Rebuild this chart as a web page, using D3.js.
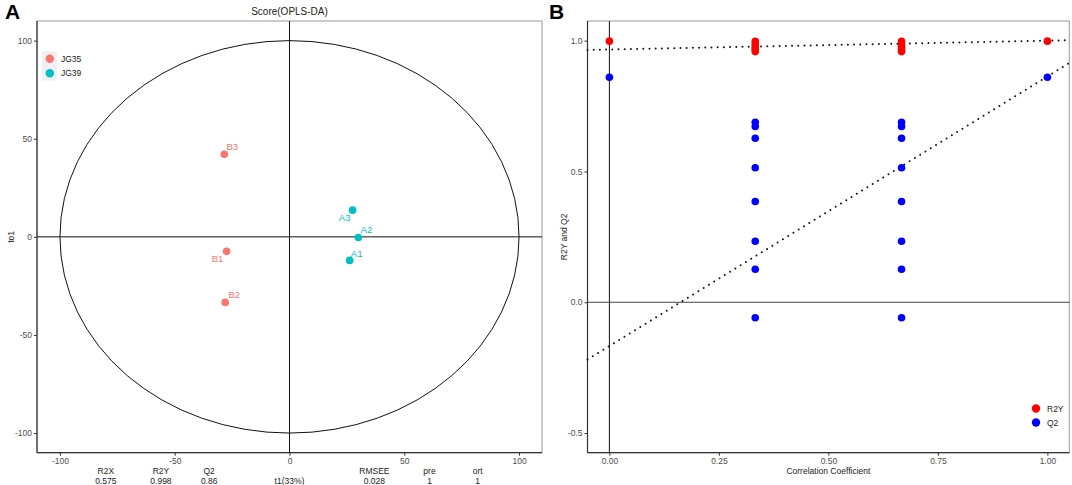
<!DOCTYPE html>
<html>
<head>
<meta charset="utf-8">
<script src="https://cdn.jsdelivr.net/npm/d3@7"></script>
<style>
  body { margin: 0; background: #fff; }
  text { font-family: "Liberation Sans", Arial, sans-serif; }
</style>
</head>
<body>
<svg id="chart" width="1072" height="485"></svg>
<script>
// ---- panel A data (OPLS-DA scores) ----
const sampleNames = ["B1", "B2", "B3", "A1", "A2", "A3"];
const sampleGroup = ["JG35", "JG35", "JG35", "JG39", "JG39", "JG39"];
const t1Scores = [-27.4, -28.0, -28.4, 26.2, 30.0, 27.5];
const to1Scores = [-7.4, -33.4, 42.1, -12.0, -0.3, 13.6];
const groups = ["JG35", "JG39"];
const ticksA = [-100, -50, 0, 50, 100];
const statNames = ["R2X", "R2Y", "Q2", "RMSEE", "pre", "ort"];
const statValues = ["0.575", "0.998", "0.86", "0.028", "1", "1"];
const statAt = [-80, -56, -35, 37, 61, 82]; // t1 position of each stat column

// ---- panel B data (permutation test) ----
const r2yCorr = [0, 0.333, 0.333, 0.333, 0.333, 0.333, 0.667, 0.667, 0.667, 0.667, 0.667, 1];
const r2yVals = [0.998, 0.997, 0.985, 0.975, 0.966, 0.958, 0.997, 0.985, 0.975, 0.966, 0.958, 0.998];
const q2Corr = [0, 0.333, 0.333, 0.333, 0.333, 0.333, 0.333, 0.333, 0.333,
                0.667, 0.667, 0.667, 0.667, 0.667, 0.667, 0.667, 0.667, 1];
const q2Vals = [0.86, 0.688, 0.672, 0.627, 0.514, 0.385, 0.233, 0.126, -0.059,
                0.688, 0.672, 0.627, 0.514, 0.385, 0.233, 0.126, -0.059, 0.86];
const r2yFit = { intercept: 0.966, slope: 0.034 };
const q2Fit = { intercept: -0.167, slope: 1.03 };
const ticksBx = [0, 0.25, 0.5, 0.75, 1];
const ticksBy = [-0.5, 0, 0.5, 1];

const svg = d3.select("#chart");
const tickColor = "#4d4d4d";
const small = "8.5px";

function styleAxis(g) {
  g.select(".domain").remove();
  g.selectAll(".tick line").attr("stroke", "#333");
  g.selectAll(".tick text").attr("fill", tickColor).style("font-size", small)
    .style("font-family", "'Liberation Sans', Arial, sans-serif");
}

function frame(x0, x1, y0, y1) {
  // light border top/right, darker axis lines left/bottom
  svg.append("rect").attr("x", x0).attr("y", y0).attr("width", x1 - x0).attr("height", y1 - y0)
    .attr("fill", "none").attr("stroke", "#999").attr("stroke-width", 1);
  svg.append("line").attr("x1", x0).attr("x2", x0).attr("y1", y0).attr("y2", y1)
    .attr("stroke", "#333").attr("stroke-width", 1.2);
  svg.append("line").attr("x1", x0).attr("x2", x1).attr("y1", y1).attr("y2", y1)
    .attr("stroke", "#333").attr("stroke-width", 1.2);
}

// plain hyphen minus like the original
const fmt = f => d => f(d).replace("\u2212", "-");

// ================= Panel A =================
const xA = d3.scaleLinear().domain([-110, 110]).range([37, 542]);
const yA = d3.scaleLinear().domain([-110, 110]).range([452.7, 21]);
const colorA = d3.scaleOrdinal().domain(groups).range(["#F8766D", "#00BFC4"]);

frame(xA.range()[0], xA.range()[1], yA.range()[1], yA.range()[0]);

svg.append("g").attr("transform", "translate(0," + yA.range()[0] + ")")
  .call(d3.axisBottom(xA).tickValues(ticksA).tickFormat(fmt(d3.format("d"))).tickSize(3).tickPadding(2))
  .call(styleAxis);
svg.append("g").attr("transform", "translate(" + xA.range()[0] + ",0)")
  .call(d3.axisLeft(yA).tickValues(ticksA).tickFormat(fmt(d3.format("d"))).tickSize(3).tickPadding(2))
  .call(styleAxis);

// zero lines
svg.append("line").attr("x1", xA(0)).attr("x2", xA(0)).attr("y1", yA.range()[1]).attr("y2", yA.range()[0])
  .attr("stroke", "#111").attr("stroke-width", 1);
svg.append("line").attr("x1", xA.range()[0]).attr("x2", xA.range()[1]).attr("y1", yA(0)).attr("y2", yA(0))
  .attr("stroke", "#111").attr("stroke-width", 1);

// confidence ellipse
svg.append("ellipse")
  .attr("cx", xA(0)).attr("cy", yA(0))
  .attr("rx", xA(100) - xA(0)).attr("ry", yA(0) - yA(100))
  .attr("fill", "none").attr("stroke", "#111").attr("stroke-width", 1);

const scoreData = sampleNames.map((n, i) => ({ name: n, group: sampleGroup[i], t1: t1Scores[i], to1: to1Scores[i] }));
svg.selectAll(".pt").data(scoreData).enter().append("circle")
  .attr("cx", d => xA(d.t1)).attr("cy", d => yA(d.to1)).attr("r", 3.8)
  .attr("fill", d => colorA(d.group));

// label nudges (repel-style)
const nudge = { B1: [-9, 11], B2: [9, -4], B3: [8, -4], A1: [7, -3], A2: [8, -4], A3: [-8, 11] };
svg.selectAll(".lbl").data(scoreData).enter().append("text")
  .attr("x", d => xA(d.t1) + nudge[d.name][0]).attr("y", d => yA(d.to1) + nudge[d.name][1])
  .attr("text-anchor", "middle").style("font-size", "9.5px")
  .attr("fill", d => colorA(d.group)).text(d => d.name);

// title
svg.append("text").attr("x", xA(0)).attr("y", 15).attr("text-anchor", "middle")
  .style("font-size", "10px").attr("fill", "#222").text("Score(OPLS-DA)");

// y title
svg.append("text").attr("transform", "translate(14," + yA(0) + ") rotate(-90)")
  .attr("text-anchor", "middle").style("font-size", small).attr("fill", "#222").text("to1");

// legend
groups.forEach((g, i) => {
  const ly = 51.5 + i * 14.5;
  svg.append("rect").attr("x", 42).attr("y", ly).attr("width", 15).attr("height", 14.5).attr("fill", "#f0f0f0");
  svg.append("circle").attr("cx", 49.8).attr("cy", ly + 7.2).attr("r", 4.2).attr("fill", colorA(g));
  svg.append("text").attr("x", 61).attr("y", ly + 10.3).style("font-size", "8.5px").attr("fill", "#222").text(g);
});

// stats under the x axis
statNames.forEach((s, i) => {
  svg.append("text").attr("x", xA(statAt[i])).attr("y", 474).attr("text-anchor", "middle")
    .style("font-size", small).attr("fill", "#222").text(s);
  svg.append("text").attr("x", xA(statAt[i])).attr("y", 484).attr("text-anchor", "middle")
    .style("font-size", small).attr("fill", "#222").text(statValues[i]);
});
svg.append("text").attr("x", xA(0)).attr("y", 484).attr("text-anchor", "middle")
  .style("font-size", small).attr("fill", "#222").text("t1(33%)");

// ================= Panel B =================
const xB = d3.scaleLinear().domain([-0.05, 1.05]).range([587.5, 1069.3]);
const yB = d3.scaleLinear().domain([-0.575, 1.075]).range([452.7, 21]);

frame(xB.range()[0], xB.range()[1], yB.range()[1], yB.range()[0]);

svg.append("g").attr("transform", "translate(0," + yB.range()[0] + ")")
  .call(d3.axisBottom(xB).tickValues(ticksBx).tickFormat(fmt(d3.format(".2f"))).tickSize(3).tickPadding(2))
  .call(styleAxis);
svg.append("g").attr("transform", "translate(" + xB.range()[0] + ",0)")
  .call(d3.axisLeft(yB).tickValues(ticksBy).tickFormat(fmt(d3.format(".1f"))).tickSize(3).tickPadding(2))
  .call(styleAxis);

svg.append("line").attr("x1", xB(0)).attr("x2", xB(0)).attr("y1", yB.range()[1]).attr("y2", yB.range()[0])
  .attr("stroke", "#111").attr("stroke-width", 1);
svg.append("line").attr("x1", xB.range()[0]).attr("x2", xB.range()[1]).attr("y1", yB(0)).attr("y2", yB(0))
  .attr("stroke", "#444").attr("stroke-width", 1);

const fitLine = d3.line().x(d => xB(d[0])).y(d => yB(d[1]));
[r2yFit, q2Fit].forEach(f => {
  const pts = xB.domain().map(x => [x, f.intercept + f.slope * x]);
  svg.append("path").attr("d", fitLine(pts))
    .attr("fill", "none").attr("stroke", "#111").attr("stroke-width", 2)
    .attr("stroke-linecap", "round").attr("stroke-dasharray", "0,6.2");
});

svg.selectAll(".q2").data(q2Vals).enter().append("circle")
  .attr("cx", (d, i) => xB(q2Corr[i])).attr("cy", d => yB(d)).attr("r", 3.8).attr("fill", "#0000FF");
svg.selectAll(".r2y").data(r2yVals).enter().append("circle")
  .attr("cx", (d, i) => xB(r2yCorr[i])).attr("cy", d => yB(d)).attr("r", 3.8).attr("fill", "#FF0000");

svg.append("text").attr("x", (xB.range()[0] + xB.range()[1]) / 2).attr("y", 474)
  .attr("text-anchor", "middle").style("font-size", small).attr("fill", "#222").text("Correlation Coefficient");
svg.append("text").attr("transform", "translate(567," + yB(0.25) + ") rotate(-90)")
  .attr("text-anchor", "middle").style("font-size", small).attr("fill", "#222").text("R2Y and Q2");

// legend
[["R2Y", "#FF0000"], ["Q2", "#0000FF"]].forEach((l, i) => {
  const ly = 408.5 + i * 14;
  svg.append("circle").attr("cx", 1036).attr("cy", ly).attr("r", 4.2).attr("fill", l[1]);
  svg.append("text").attr("x", 1047).attr("y", ly + 3).style("font-size", small).attr("fill", "#222").text(l[0]);
});

// panel letters
svg.append("text").attr("x", 5).attr("y", 19).style("font-size", "21px").style("font-weight", "bold").text("A");
svg.append("text").attr("x", 549).attr("y", 19).style("font-size", "21px").style("font-weight", "bold").text("B");
</script>
</body>
</html>
